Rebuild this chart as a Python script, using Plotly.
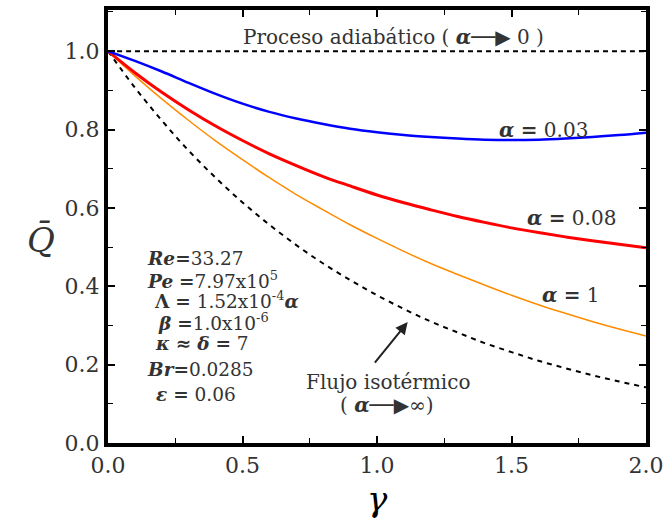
import plotly.graph_objects as go

gamma = [0.0, 0.1, 0.2, 0.3, 0.4, 0.5, 0.6, 0.7, 0.8, 0.9, 1.0,
         1.1, 1.2, 1.3, 1.4, 1.5, 1.6, 1.7, 1.8, 1.9, 2.0]
q_adiabatic = [1.0] * 21
q_a003 = [1.0, 0.975, 0.948, 0.919, 0.891, 0.866, 0.845, 0.828, 0.814, 0.802, 0.793,
          0.786, 0.781, 0.777, 0.774, 0.773, 0.774, 0.777, 0.781, 0.786, 0.792]
q_a008 = [1.0, 0.945, 0.895, 0.850, 0.809, 0.772, 0.738, 0.708, 0.680, 0.656, 0.633,
          0.613, 0.595, 0.578, 0.563, 0.549, 0.537, 0.526, 0.516, 0.507, 0.498]
q_a1 = [1.0, 0.937, 0.878, 0.823, 0.771, 0.723, 0.677, 0.634, 0.595, 0.557, 0.522,
        0.489, 0.458, 0.430, 0.403, 0.377, 0.353, 0.331, 0.310, 0.291, 0.273]
q_iso = [1.0, 0.907, 0.823, 0.746, 0.677, 0.614, 0.557, 0.505, 0.458, 0.416, 0.377,
         0.342, 0.310, 0.282, 0.255, 0.232, 0.210, 0.191, 0.173, 0.157, 0.142]

SERIF = "DejaVu Serif"
TXT = "#333333"

fig = go.Figure()
fig.add_trace(go.Scatter(x=gamma, y=q_adiabatic, mode="lines",
                         line=dict(color="black", width=2, dash="5px,4px"), line_shape="spline"))
fig.add_trace(go.Scatter(x=gamma, y=q_iso, mode="lines",
                         line=dict(color="black", width=2, dash="5px,5px"), line_shape="spline"))
fig.add_trace(go.Scatter(x=gamma, y=q_a1, mode="lines",
                         line=dict(color="#ff8c00", width=1.5), line_shape="spline"))
fig.add_trace(go.Scatter(x=gamma, y=q_a008, mode="lines",
                         line=dict(color="#ff0000", width=3), line_shape="spline"))
fig.add_trace(go.Scatter(x=gamma, y=q_a003, mode="lines",
                         line=dict(color="#0000ff", width=2.5), line_shape="spline"))

axis_common = dict(
    showline=True, linewidth=4, linecolor="black", mirror="ticks",
    ticks="inside", ticklen=7, tickwidth=1.5, tickcolor="black",
    showgrid=False, zeroline=False,
    tickfont=dict(family=SERIF, size=22, color=TXT),
)
fig.update_xaxes(range=[0, 2], dtick=0.5, tickformat=".1f",
                 minor=dict(dtick=0.25, ticks="inside", ticklen=5, tickwidth=1.2, tickcolor="black"),
                 **axis_common)
fig.update_yaxes(range=[0, 1.105], dtick=0.2, tickformat=".1f",
                 minor=dict(dtick=0.1, ticks="inside", ticklen=5, tickwidth=1.2, tickcolor="black"),
                 **axis_common)
fig.update_layout(font=dict(family=SERIF, color=TXT))

def ann(x, y, text, size=20, xanchor="center", color=TXT):
    fig.add_annotation(x=x, y=y, xref="paper", yref="paper", text=text, showarrow=False,
                       xanchor=xanchor, yanchor="middle",
                       font=dict(family=SERIF, size=size, color=color))

def px(xp):
    return (xp - 108) / 544.0
def py(yp):
    return (443 - yp) / 437.0

A = "<b><i>α</i></b>"
ARW = "\u2500\u2500\u25B6"
ann(px(397), py(33), "Proceso adiabático ( " + A + ARW + " 0 )", size=20)
ann(px(548), py(127), A + " <b>=</b> 0.03", size=20)
ann(px(577), py(216), A + " <b>=</b> 0.08", size=20)
ann(px(576), py(294), A + " <b>=</b> 1", size=20)
ann(px(392), py(381), "Flujo isotérmico", size=20)
ann(px(390), py(405), "( " + A + ARW + "\u221E)", size=20)

params = [
    (145, 257, "<b><i>Re</i></b><b>=</b>33.27"),
    (145, 278, "<b><i>Pe</i></b> <b>=</b>7.97x10<sup>5</sup>"),
    (152, 299, "<b>Λ</b> <b>=</b> 1.52x10<sup>-4</sup><b><i>α</i></b>"),
    (157, 321, "<b><i>β</i></b> <b>=</b>1.0x10<sup>-6</sup>"),
    (154, 343, "<b><i>κ</i></b> <b>≈</b> <b><i>δ</i></b> <b>=</b> 7"),
    (145, 369, "<b><i>Br</i></b><b>=</b>0.0285"),
    (155, 394, "<b><i>ε</i></b> <b>=</b> 0.06"),
]
for xp, yp, t in params:
    ann(px(xp), py(yp), t, size=18.5, xanchor="left")

fig.add_annotation(x=px(411), y=py(321), xref="paper", yref="paper",
                   ax=-34, ay=42,
                   text="", showarrow=True, arrowhead=2, arrowsize=1.2, arrowwidth=2,
                   arrowcolor="#222222")

fig.add_annotation(x=px(381), y=py(522), xref="paper", yref="paper", text="<i>γ</i>",
                   showarrow=False, font=dict(family=SERIF, size=34, color="black"))
fig.add_annotation(x=px(24), y=py(238), xref="paper", yref="paper", text="<i>Q\u0304</i>",
                   showarrow=False, font=dict(family=SERIF, size=34, color=TXT))

fig.update_layout(
    width=670, height=531,
    margin=dict(l=108, r=18, t=6, b=88),
    paper_bgcolor="white", plot_bgcolor="white",
    showlegend=False,
)

fig.write_html("out.html")
